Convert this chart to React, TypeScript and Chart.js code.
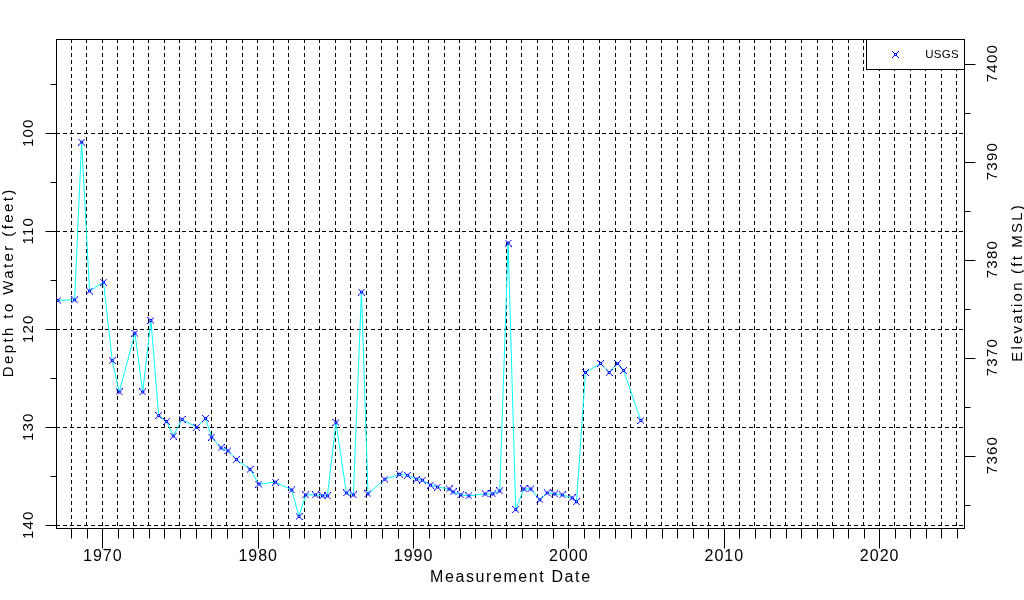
import React, { useEffect, useRef } from 'react';
import { Chart, registerables } from 'chart.js';

Chart.register(...registerables);

// ---- data ----
const years = [
  1967.14, 1968.22, 1968.67, 1969.18, 1970.08, 1970.64, 1971.09, 1972.10, 1972.60, 1973.13,
  1973.63, 1974.14, 1974.57, 1975.13, 1976.07, 1976.65, 1977.04, 1977.64, 1978.09, 1978.63,
  1979.51, 1980.08, 1981.14, 1982.19, 1982.66, 1983.09, 1983.72, 1984.17, 1984.49, 1985.04,
  1985.71, 1986.16, 1986.68, 1987.10, 1988.18, 1989.14, 1989.64, 1990.22, 1990.60, 1991.12,
  1991.57, 1992.32, 1992.58, 1993.07, 1993.59, 1994.64, 1995.13, 1995.58, 1996.12, 1996.61,
  1997.13, 1997.58, 1998.16, 1998.63, 1999.12, 1999.60, 2000.24, 2000.52, 2001.10, 2002.07,
  2002.62, 2003.16, 2003.55, 2004.66,
];
const depths = [
  117.05, 117.0, 100.9, 116.1, 115.2, 123.2, 126.4, 120.4, 126.4, 119.1,
  128.8, 129.4, 130.9, 129.2, 130.0, 129.1, 131.0, 132.1, 132.4, 133.3,
  134.3, 135.8, 135.6, 136.4, 139.1, 136.9, 136.9, 137.0, 137.0, 129.5,
  136.7, 136.9, 116.2, 136.8, 135.3, 134.8, 134.9, 135.3, 135.4, 135.9,
  136.1, 136.3, 136.6, 136.9, 137.0, 136.8, 136.8, 136.5, 111.2, 138.4,
  136.3, 136.3, 137.4, 136.7, 136.8, 136.9, 137.2, 137.6, 124.4, 123.5,
  124.4, 123.5, 124.2, 129.3,
];
const seriesLabel = 'USGS';
const landSurfaceElevation = 7492.9;

const xTickLabels = ['1970', '1980', '1990', '2000', '2010', '2020'];
const yTickLabels = ['100', '110', '120', '130', '140'];
const y2TickLabels = ['7360', '7370', '7380', '7390', '7400'];

const xTitle = 'Measurement Date';
const yTitle = 'Depth to Water (feet)';
const y2Title = 'Elevation (ft MSL)';

const xMin = 1967.02;
const xMax = 2025.46;
const yMin = 90.38;
const yMax = 140.28;

const FONT = '"Liberation Sans", Arial, sans-serif';

function drawText(
  ctx: CanvasRenderingContext2D, s: string, x: number, y: number,
  rot: number, size: number, ls: number,
) {
  ctx.save();
  ctx.translate(x, y);
  if (rot) ctx.rotate(rot);
  ctx.font = `${size}px ${FONT}`;
  (ctx as any).letterSpacing = ls + 'px';
  ctx.textAlign = 'center';
  ctx.textBaseline = 'middle';
  ctx.fillStyle = '#000';
  ctx.fillText(s, ls / 2, 0);
  ctx.restore();
}

function makeMarker(): HTMLCanvasElement {
  const c = document.createElement('canvas');
  c.width = 7;
  c.height = 7;
  const g = c.getContext('2d')!;
  g.fillStyle = '#0000ff';
  const px = [
    'X.....X',
    '.X...X.',
    '..XXX..',
    '..X.X..',
    '..XXX..',
    '.X...X.',
    'X.....X',
  ];
  px.forEach((row, j) => {
    for (let i = 0; i < row.length; i++) if (row[i] === 'X') g.fillRect(i, j, 1, 1);
  });
  return c;
}

export default function App() {
  const ref = useRef<HTMLCanvasElement>(null);

  useEffect(() => {
    const marker = makeMarker();

    const axesPlugin = {
      id: 'rStyleAxes',
      afterDraw(chart: any) {
        const { ctx, chartArea: a, scales } = chart;
        const L = Math.round(a.left), R = Math.round(a.right);
        const T = Math.round(a.top), B = Math.round(a.bottom);
        ctx.save();
        ctx.strokeStyle = '#000';
        ctx.lineWidth = 1;
        ctx.setLineDash([]);
        // frame
        ctx.strokeRect(L + 0.5, T + 0.5, R - L, B - T);

        // x ticks
        const xs = scales.x;
        ctx.beginPath();
        xs.ticks.forEach((t: any) => {
          const p = Math.round(xs.getPixelForValue(t.value)) + 0.5;
          const major = Math.round(t.value) % 10 === 0;
          ctx.moveTo(p, B + 0.5);
          ctx.lineTo(p, B + 0.5 + (major ? 20 : 10));
        });
        // y ticks (left)
        const ys = scales.y;
        ys.ticks.forEach((t: any) => {
          const p = Math.round(ys.getPixelForValue(t.value)) + 0.5;
          const major = Math.round(t.value) % 10 === 0;
          ctx.moveTo(L + 0.5, p);
          ctx.lineTo(L + 0.5 - (major ? 11 : 6), p);
        });
        // y2 ticks (right)
        const y2 = scales.y2;
        y2.ticks.forEach((t: any) => {
          const p = Math.round(y2.getPixelForValue(t.value)) + 0.5;
          const major = Math.round(t.value) % 10 === 0;
          ctx.moveTo(R + 0.5, p);
          ctx.lineTo(R + 0.5 + (major ? 11 : 6), p);
        });
        ctx.stroke();

        // tick labels
        xs.ticks.forEach((t: any) => {
          const s = String(Math.round(t.value));
          if (xTickLabels.includes(s)) drawText(ctx, s, xs.getPixelForValue(t.value), 557, 0, 16, 1);
        });
        ys.ticks.forEach((t: any) => {
          const s = String(Math.round(t.value));
          if (yTickLabels.includes(s)) drawText(ctx, s, 28.5, ys.getPixelForValue(t.value), -Math.PI / 2, 15, 1.2);
        });
        y2.ticks.forEach((t: any) => {
          const s = String(Math.round(t.value));
          if (y2TickLabels.includes(s)) drawText(ctx, s, 993, y2.getPixelForValue(t.value), -Math.PI / 2, 15, 1.2);
        });

        // titles
        const cx = (L + R) / 2;
        const cy = (T + B) / 2;
        drawText(ctx, xTitle, cx, 578, 0, 16, 1.6);
        drawText(ctx, yTitle, 9, cy, -Math.PI / 2, 15, 2.4);
        drawText(ctx, y2Title, 1018, cy, -Math.PI / 2, 15, 2.2);

        // legend
        const lx = 866, ly = T, lw = R - 866, lh = 30;
        ctx.fillStyle = '#fff';
        ctx.fillRect(lx, ly, lw, lh);
        ctx.strokeRect(lx + 0.5, ly + 0.5, lw, lh);
        ctx.drawImage(marker, 895 - 3, ly + 15 - 3);
        drawText(ctx, chart.data.datasets[0].label, 942, ly + 15.5, 0, 11.5, 0.3);
        ctx.restore();
      },
    };

    const chart = new Chart(ref.current!, {
      type: 'line',
      data: {
        datasets: [
          {
            label: seriesLabel,
            data: years.map((x, i) => ({ x, y: depths[i] })),
            borderColor: '#00ffff',
            backgroundColor: '#0000ff',
            borderWidth: 1,
            pointStyle: marker as any,
            pointRadius: 4,
            tension: 0,
            yAxisID: 'y',
            xAxisID: 'x',
          },
        ],
      },
      options: {
        animation: false,
        responsive: false,
        devicePixelRatio: 1,
        events: [],
        layout: { padding: { top: 39, left: 0, right: 0, bottom: 0 }, autoPadding: false },
        plugins: { legend: { display: false }, tooltip: { enabled: false }, title: { display: false } },
        scales: {
          x: {
            type: 'linear',
            position: 'bottom',
            min: xMin,
            max: xMax,
            ticks: { display: false, stepSize: 1, includeBounds: false, autoSkip: false },
            grid: { color: '#000', lineWidth: 1, drawTicks: false },
            border: { display: false, dash: [4, 3] },
            afterFit: (s: any) => { s.height = 72; },
          },
          y: {
            type: 'linear',
            position: 'left',
            reverse: true,
            min: yMin,
            max: yMax,
            ticks: { display: false, stepSize: 5, includeBounds: false },
            grid: {
              color: (c: any) => (c.tick && Math.round(c.tick.value) % 10 === 0 ? '#000' : 'rgba(0,0,0,0)'),
              lineWidth: 1,
              drawTicks: false,
            },
            border: { display: false, dash: [4, 3] },
            afterFit: (s: any) => { s.width = 56; },
          },
          y2: {
            type: 'linear',
            position: 'right',
            min: landSurfaceElevation - yMax,
            max: landSurfaceElevation - yMin,
            ticks: { display: false, stepSize: 5, includeBounds: false },
            grid: { display: false, drawTicks: false },
            border: { display: false },
            afterFit: (s: any) => { s.width = 60; },
          },
        },
      } as any,
      plugins: [axesPlugin],
    });
    return () => chart.destroy();
  }, []);

  return (
    <div style={{ position: 'absolute', left: 0, top: 0, width: 1024, height: 600, background: '#fff' }}>
      <canvas ref={ref} width={1024} height={600} style={{ display: 'block' }} />
    </div>
  );
}
